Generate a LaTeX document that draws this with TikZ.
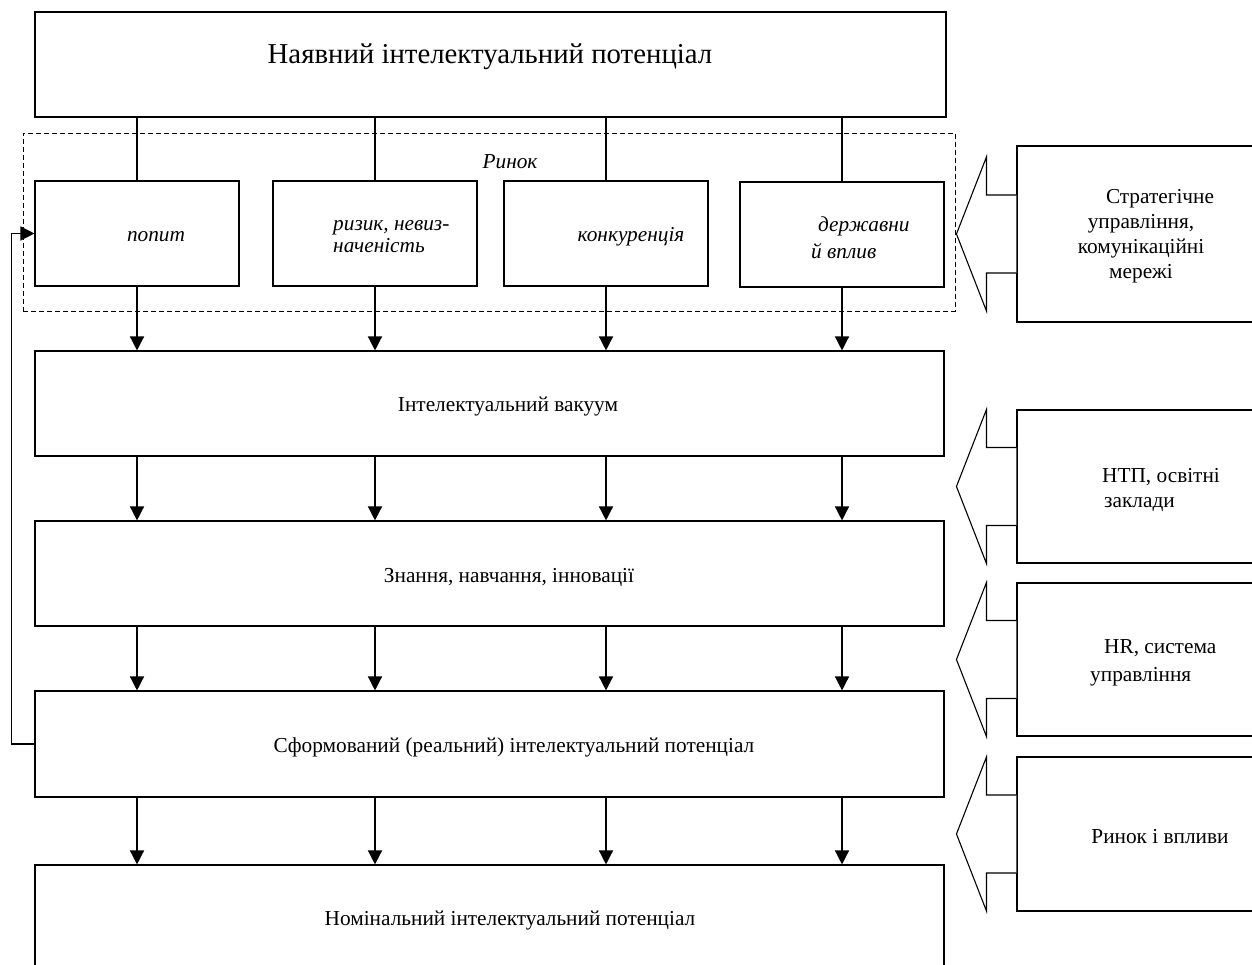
\documentclass[tikz,border=0pt]{standalone}
\usepackage{fontspec}
\setmainfont{Liberation Serif}
\usetikzlibrary{arrows.meta,calc}
\begin{document}
\begin{tikzpicture}[x=1pt,y=-1pt,
  frame/.style={draw=black, line width=1.1pt, inner sep=0pt, fill=white},
  body/.style={font=\fontsize{21.3}{25}\selectfont, inner sep=0pt},
  itbody/.style={font=\fontsize{21.3}{22}\selectfont\itshape, inner sep=0pt},
  flow/.style={line width=1.4pt, -{Triangle[length=14pt,width=14pt]}},
  wire/.style={line width=1.4pt},
  side/.style={draw=black, line width=1.1pt, fill=white, line join=miter},
  market/.style={draw=black, line width=0.9pt, dash pattern=on 5pt off 3pt, inner sep=0pt}]
\useasboundingbox (0,0) rectangle (1252,965);

% source box
\node[frame, minimum width=911pt, minimum height=105pt] (top) at (490.5,64.5) {};
\node[font=\fontsize{28.8}{32}\selectfont, inner sep=0pt] at (490,57) {Наявний інтелектуальний потенціал};

% market frame with its four factors
\node[market, minimum width=932pt, minimum height=178pt] (mframe) at (489,222) {};
\node[itbody] at (510,162) {Ринок};

\node[frame, minimum width=204pt, minimum height=105pt] (popyt) at (137,233.5) {};
\node[itbody] at (156,237) {попит};
\node[frame, minimum width=204pt, minimum height=105pt] (risk) at (375,233.5) {};
\node[itbody, align=left, anchor=west] at (333,237) {ризик, невиз-\\наченість};
\node[frame, minimum width=204pt, minimum height=105pt] (konk) at (606,233.5) {};
\node[itbody] at (631,237) {конкуренція};
\node[frame, minimum width=204pt, minimum height=105pt] (derzh) at (842,234.5) {};
\node[itbody, align=left, anchor=west, font=\fontsize{21.3}{27}\selectfont\itshape] at (811,238) {\hspace*{7pt}державни\\й вплив};

% main stages
\node[frame, minimum width=909pt, minimum height=105pt] (vac) at (489.5,403.5) {};
\node[body] at (508,407) {Інтелектуальний вакуум};
\node[frame, minimum width=909pt, minimum height=105pt] (know) at (489.5,573.5) {};
\node[body] at (509,577) {Знання, навчання, інновації};
\node[frame, minimum width=909pt, minimum height=106pt] (form) at (489.5,744) {};
\node[body] at (514,747) {Сформований (реальний) інтелектуальний потенціал};
\node[frame, minimum width=909pt, minimum height=105pt] (nom) at (489.5,917.5) {};
\node[body] at (510,920) {Номінальний інтелектуальний потенціал};

% vertical flows
\foreach \c in {popyt,risk,konk,derzh} {
  \draw[wire] (top.south -| \c.north) -- (\c.north);
  \draw[flow] (\c.south) -- (vac.north -| \c.south);
  \draw[flow] (vac.south -| \c.south) -- (know.north -| \c.south);
  \draw[flow] (know.south -| \c.south) -- (form.north -| \c.south);
  \draw[flow] (form.south -| \c.south) -- (nom.north -| \c.south);
}

% feedback loop
\draw[flow] (form.west) -- ++(-23,0) |- (popyt.west);

% external influences
\node[frame, minimum width=243pt, minimum height=176pt] (sb) at (1138.5,234) {};
\node[body, align=center] at (1141,236) {\hspace*{38pt}Стратегічне\\управління,\\комунікаційні\\мережі};
\node[frame, minimum width=243pt, minimum height=153pt] (ntp) at (1138.5,486.5) {};
\node[body, align=left, anchor=west] at (1102,490) {НТП, освітні\\\hspace*{2pt}заклади};
\node[frame, minimum width=243pt, minimum height=153pt] (hr) at (1138.5,659.5) {};
\node[body, align=left, anchor=west, font=\fontsize{21.3}{28}\selectfont] at (1090,663) {\hspace*{14pt}HR, система\\управління};
\node[frame, minimum width=243pt, minimum height=154pt] (mkt) at (1138.5,834) {};
\node[body] at (1160,837) {Ринок і впливи};

% block arrows pointing into the stages
\foreach \b in {sb,ntp,hr,mkt} {
  \draw[side] ($(\b.west)+(0,-39)$) -- ++(-30,0) -- ++(0,-38)
    -- ($(\b.west)+(-60,0)$) -- ($(\b.west)+(-30,77)$) -- ++(0,-38)
    -- ($(\b.west)+(0,39)$);
}
\end{tikzpicture}
\end{document}
